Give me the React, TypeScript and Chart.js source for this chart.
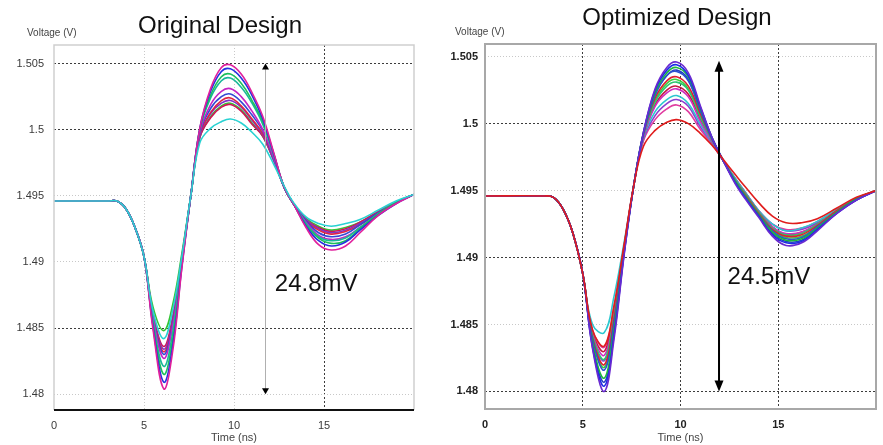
import React, { useEffect, useRef } from "react";
import { Chart, registerables } from "chart.js";

Chart.register(...registerables);

// ---------- data ----------
const TIME_NS = [0, 3, 3.5, 4, 4.5, 5, 5.5, 6.1, 6.6, 7.1, 7.6, 8.1, 8.7, 9.3, 9.8, 10.4, 11, 11.6, 12.2, 12.8, 13.3, 14, 14.7, 15.4, 16.2, 17, 18, 19, 20];

const Y_TICKS = [1.48, 1.485, 1.49, 1.495, 1.5, 1.505];
const Y_TICK_LABELS = ["1.48", "1.485", "1.49", "1.495", "1.5", "1.505"];
const X_TICKS = [0, 5, 10, 15];
const X_TICK_LABELS = ["0", "5", "10", "15"];

const ORIGINAL_TITLE = "Original Design";
const OPTIMIZED_TITLE = "Optimized Design";
const Y_AXIS_LABEL = "Voltage (V)";
const X_AXIS_LABEL = "Time (ns)";
const ORIGINAL_SPREAD_LABEL = "24.8mV";
const OPTIMIZED_SPREAD_LABEL = "24.5mV";

// spread arrow: [time ns, top V, bottom V]
const ORIGINAL_ARROW = [11.75, 1.505, 1.48];
const OPTIMIZED_ARROW = [11.97, 1.5047, 1.48];
// spread label anchor: [time ns, V]
const ORIGINAL_LABEL_AT = [12.27, 1.4883];
const OPTIMIZED_LABEL_AT = [12.41, 1.48855];

// Original design waveforms (V)
const ORIG_CYAN = [1.4946, 1.4946, 1.4946, 1.4940, 1.4926, 1.4904, 1.4863, 1.4842, 1.4864, 1.4904, 1.4950, 1.4990, 1.5001, 1.5006, 1.5008, 1.5005, 1.4998, 1.4989, 1.4974, 1.4957, 1.4945, 1.4934, 1.4929, 1.4927, 1.4929, 1.4932, 1.4939, 1.4946, 1.4951];
const ORIG_MAGENTA_1 = [1.4946, 1.4946, 1.4946, 1.4940, 1.4926, 1.4904, 1.4849, 1.4804, 1.4833, 1.4895, 1.4950, 1.5001, 1.5031, 1.5047, 1.5049, 1.5042, 1.5028, 1.5010, 1.4983, 1.4956, 1.4944, 1.4926, 1.4913, 1.4909, 1.4912, 1.4922, 1.4935, 1.4944, 1.4951];
const ORIG_BLUE_1 = [1.4946, 1.4946, 1.4946, 1.4940, 1.4926, 1.4904, 1.4851, 1.4809, 1.4837, 1.4896, 1.4950, 1.5001, 1.5029, 1.5044, 1.5046, 1.5039, 1.5026, 1.5008, 1.4982, 1.4956, 1.4944, 1.4927, 1.4916, 1.4912, 1.4915, 1.4924, 1.4935, 1.4944, 1.4951];
const ORIG_GREEN_1 = [1.4946, 1.4946, 1.4946, 1.4940, 1.4926, 1.4904, 1.4853, 1.4815, 1.4842, 1.4898, 1.4950, 1.5000, 1.5026, 1.5040, 1.5042, 1.5035, 1.5022, 1.5006, 1.4982, 1.4956, 1.4944, 1.4928, 1.4918, 1.4914, 1.4916, 1.4925, 1.4936, 1.4945, 1.4951];
const ORIG_TEAL = [1.4946, 1.4946, 1.4946, 1.4940, 1.4926, 1.4904, 1.4855, 1.4821, 1.4847, 1.4899, 1.4950, 1.5000, 1.5024, 1.5037, 1.5039, 1.5032, 1.5020, 1.5004, 1.4981, 1.4956, 1.4944, 1.4929, 1.4919, 1.4916, 1.4918, 1.4926, 1.4936, 1.4945, 1.4951];
const ORIG_MAGENTA_2 = [1.4946, 1.4946, 1.4946, 1.4940, 1.4926, 1.4904, 1.4858, 1.4827, 1.4852, 1.4900, 1.4950, 1.4998, 1.5019, 1.5029, 1.5031, 1.5025, 1.5014, 1.5000, 1.4979, 1.4956, 1.4944, 1.4930, 1.4920, 1.4917, 1.4919, 1.4926, 1.4936, 1.4945, 1.4951];
const ORIG_BLUE_2 = [1.4946, 1.4946, 1.4946, 1.4940, 1.4926, 1.4904, 1.4859, 1.4830, 1.4854, 1.4901, 1.4950, 1.4997, 1.5016, 1.5025, 1.5027, 1.5021, 1.5011, 1.4999, 1.4978, 1.4956, 1.4944, 1.4931, 1.4922, 1.4919, 1.4921, 1.4928, 1.4937, 1.4945, 1.4951];
const ORIG_RED_1 = [1.4946, 1.4946, 1.4946, 1.4940, 1.4926, 1.4904, 1.4860, 1.4832, 1.4856, 1.4902, 1.4950, 1.4996, 1.5013, 1.5022, 1.5024, 1.5018, 1.5008, 1.4997, 1.4978, 1.4956, 1.4944, 1.4931, 1.4924, 1.4921, 1.4923, 1.4928, 1.4937, 1.4945, 1.4951];
const ORIG_PURPLE = [1.4946, 1.4946, 1.4946, 1.4940, 1.4926, 1.4904, 1.4860, 1.4834, 1.4857, 1.4902, 1.4950, 1.4995, 1.5012, 1.5020, 1.5022, 1.5017, 1.5007, 1.4996, 1.4977, 1.4956, 1.4944, 1.4932, 1.4925, 1.4922, 1.4924, 1.4929, 1.4937, 1.4945, 1.4951];
const ORIG_RED_2 = [1.4946, 1.4946, 1.4946, 1.4940, 1.4926, 1.4904, 1.4861, 1.4836, 1.4859, 1.4903, 1.4950, 1.4994, 1.5009, 1.5017, 1.5019, 1.5014, 1.5004, 1.4995, 1.4977, 1.4956, 1.4944, 1.4932, 1.4926, 1.4923, 1.4925, 1.4930, 1.4938, 1.4945, 1.4951];
const ORIG_GREEN_2 = [1.4946, 1.4946, 1.4946, 1.4940, 1.4926, 1.4904, 1.4866, 1.4848, 1.4868, 1.4906, 1.4950, 1.4994, 1.5010, 1.5018, 1.5020, 1.5015, 1.5005, 1.4995, 1.4977, 1.4956, 1.4944, 1.4933, 1.4927, 1.4924, 1.4926, 1.4930, 1.4938, 1.4945, 1.4951];

// Optimized design waveforms (V)
const OPT_RED_LOW = [1.4946, 1.4946, 1.4945, 1.4936, 1.4918, 1.4888, 1.4846, 1.4834, 1.4864, 1.4908, 1.4953, 1.4983, 1.4995, 1.5001, 1.5003, 1.5000, 1.4993, 1.4984, 1.4973, 1.4962, 1.4953, 1.4941, 1.4931, 1.4926, 1.4926, 1.4929, 1.4937, 1.4945, 1.4950];
const OPT_PURPLE_1 = [1.4946, 1.4946, 1.4945, 1.4936, 1.4918, 1.4888, 1.4832, 1.4800, 1.4839, 1.4900, 1.4953, 1.4993, 1.5026, 1.5042, 1.5046, 1.5038, 1.5014, 1.4990, 1.4972, 1.4955, 1.4944, 1.4930, 1.4916, 1.4909, 1.4911, 1.4920, 1.4933, 1.4943, 1.4950];
const OPT_BLUE_1 = [1.4946, 1.4946, 1.4945, 1.4936, 1.4918, 1.4888, 1.4833, 1.4804, 1.4842, 1.4901, 1.4953, 1.4993, 1.5025, 1.5040, 1.5044, 1.5036, 1.5013, 1.4990, 1.4972, 1.4956, 1.4945, 1.4931, 1.4917, 1.4911, 1.4912, 1.4921, 1.4933, 1.4943, 1.4950];
const OPT_GREEN_1 = [1.4946, 1.4946, 1.4945, 1.4936, 1.4918, 1.4888, 1.4836, 1.4810, 1.4846, 1.4903, 1.4953, 1.4993, 1.5023, 1.5038, 1.5042, 1.5035, 1.5012, 1.4990, 1.4972, 1.4957, 1.4946, 1.4932, 1.4919, 1.4913, 1.4914, 1.4922, 1.4934, 1.4944, 1.4950];
const OPT_BLUE_2 = [1.4946, 1.4946, 1.4945, 1.4936, 1.4918, 1.4888, 1.4839, 1.4816, 1.4851, 1.4904, 1.4953, 1.4992, 1.5021, 1.5036, 1.5039, 1.5032, 1.5010, 1.4989, 1.4972, 1.4957, 1.4946, 1.4932, 1.4920, 1.4914, 1.4915, 1.4923, 1.4934, 1.4944, 1.4950];
const OPT_RED_1 = [1.4946, 1.4946, 1.4945, 1.4936, 1.4918, 1.4888, 1.4840, 1.4820, 1.4854, 1.4905, 1.4953, 1.4992, 1.5019, 1.5032, 1.5035, 1.5028, 1.5008, 1.4989, 1.4972, 1.4957, 1.4947, 1.4933, 1.4921, 1.4916, 1.4917, 1.4924, 1.4935, 1.4944, 1.4950];
const OPT_GREEN_2 = [1.4946, 1.4946, 1.4945, 1.4936, 1.4918, 1.4888, 1.4842, 1.4824, 1.4857, 1.4905, 1.4953, 1.4991, 1.5016, 1.5028, 1.5031, 1.5025, 1.5005, 1.4988, 1.4972, 1.4958, 1.4948, 1.4934, 1.4922, 1.4917, 1.4918, 1.4925, 1.4935, 1.4944, 1.4950];
const OPT_MAGENTA_1 = [1.4946, 1.4946, 1.4945, 1.4936, 1.4918, 1.4888, 1.4843, 1.4827, 1.4859, 1.4906, 1.4953, 1.4990, 1.5013, 1.5023, 1.5026, 1.5020, 1.5002, 1.4987, 1.4972, 1.4958, 1.4948, 1.4934, 1.4923, 1.4918, 1.4919, 1.4925, 1.4935, 1.4944, 1.4950];
const OPT_RED_2 = [1.4946, 1.4946, 1.4945, 1.4936, 1.4918, 1.4888, 1.4844, 1.4830, 1.4861, 1.4907, 1.4953, 1.4990, 1.5014, 1.5025, 1.5028, 1.5022, 1.5004, 1.4987, 1.4972, 1.4958, 1.4948, 1.4934, 1.4923, 1.4917, 1.4919, 1.4925, 1.4935, 1.4944, 1.4950];
const OPT_CYAN = [1.4946, 1.4946, 1.4945, 1.4936, 1.4918, 1.4888, 1.4850, 1.4844, 1.4871, 1.4910, 1.4953, 1.4989, 1.5009, 1.5018, 1.5021, 1.5015, 1.5000, 1.4986, 1.4972, 1.4959, 1.4949, 1.4935, 1.4925, 1.4920, 1.4922, 1.4927, 1.4936, 1.4944, 1.4950];
const OPT_PURPLE_2 = [1.4946, 1.4946, 1.4945, 1.4936, 1.4918, 1.4888, 1.4841, 1.4823, 1.4856, 1.4905, 1.4953, 1.4988, 1.5006, 1.5015, 1.5018, 1.5013, 1.4998, 1.4986, 1.4972, 1.4959, 1.4949, 1.4935, 1.4925, 1.4920, 1.4921, 1.4926, 1.4935, 1.4944, 1.4950];
const OPT_MAGENTA_2 = [1.4946, 1.4946, 1.4945, 1.4936, 1.4918, 1.4888, 1.4846, 1.4833, 1.4863, 1.4907, 1.4953, 1.4987, 1.5003, 1.5011, 1.5014, 1.5009, 1.4996, 1.4985, 1.4972, 1.4959, 1.4949, 1.4935, 1.4925, 1.4921, 1.4922, 1.4927, 1.4936, 1.4944, 1.4950];
const OPT_GREEN_3 = [1.4946, 1.4946, 1.4945, 1.4936, 1.4918, 1.4888, 1.4839, 1.4818, 1.4852, 1.4904, 1.4953, 1.4991, 1.5017, 1.5030, 1.5033, 1.5026, 1.5006, 1.4988, 1.4972, 1.4957, 1.4947, 1.4933, 1.4921, 1.4915, 1.4916, 1.4923, 1.4934, 1.4944, 1.4950];
const OPT_BLUE_3 = [1.4946, 1.4946, 1.4945, 1.4936, 1.4918, 1.4888, 1.4835, 1.4807, 1.4844, 1.4902, 1.4953, 1.4992, 1.5022, 1.5036, 1.5040, 1.5033, 1.5010, 1.4989, 1.4972, 1.4956, 1.4945, 1.4931, 1.4918, 1.4912, 1.4913, 1.4922, 1.4934, 1.4943, 1.4950];

// first entry is drawn on top
const ORIGINAL_SERIES = [
  { values: ORIG_CYAN, color: "#28d2d2" },
  { values: ORIG_MAGENTA_1, color: "#e0209c" },
  { values: ORIG_BLUE_1, color: "#2430e0" },
  { values: ORIG_GREEN_1, color: "#1cbf5c" },
  { values: ORIG_TEAL, color: "#18b89a" },
  { values: ORIG_MAGENTA_2, color: "#c424c4" },
  { values: ORIG_BLUE_2, color: "#3448d4" },
  { values: ORIG_RED_1, color: "#e02444" },
  { values: ORIG_PURPLE, color: "#8034c8" },
  { values: ORIG_RED_2, color: "#d01454" },
  { values: ORIG_GREEN_2, color: "#34c434" },
];

const OPTIMIZED_SERIES = [
  { values: OPT_RED_LOW, color: "#e01c1c" },
  { values: OPT_PURPLE_1, color: "#6a2ad0" },
  { values: OPT_BLUE_1, color: "#1c2ce6" },
  { values: OPT_GREEN_1, color: "#1cb83c" },
  { values: OPT_BLUE_2, color: "#2c50d0" },
  { values: OPT_RED_1, color: "#dc2030" },
  { values: OPT_GREEN_2, color: "#2cc670" },
  { values: OPT_MAGENTA_1, color: "#d02cc0" },
  { values: OPT_RED_2, color: "#c41840" },
  { values: OPT_CYAN, color: "#2cc8d0" },
  { values: OPT_PURPLE_2, color: "#8c3ed0" },
  { values: OPT_MAGENTA_2, color: "#e03ca0" },
  { values: OPT_GREEN_3, color: "#3cd03c" },
  { values: OPT_BLUE_3, color: "#2440c0" },
];

// ---------- layout / style ----------
const FONT = '"Liberation Sans", Arial, sans-serif';
const CANVAS_H = 445;

const PANELS = [
  {
    key: "orig",
    pageLeft: 0,
    width: 440,
    area: { left: 54, top: 45, right: 414, bottom: 410 },
    yMin: 1.4788,
    yMax: 1.5064,
    series: ORIGINAL_SERIES,
    title: ORIGINAL_TITLE,
    titleX: 220,
    titleY: 33,
    yLabelX: 27,
    yLabelY: 36,
    yTickPad: 10,
    tickWeight: "normal",
    tickColor: "#3a3a3a",
    yGrid: ["light", "dark", "light", "light", "dark", "dark"],
    xGrid: ["none", "light", "light", "dark"],
    frame: "original",
    arrow: ORIGINAL_ARROW,
    arrowStyle: { color: "#b0b0b0", width: 1, hw: 3.5, hl: 6 },
    spread: ORIGINAL_SPREAD_LABEL,
    spreadAt: ORIGINAL_LABEL_AT,
  },
  {
    key: "opt",
    pageLeft: 440,
    width: 443,
    area: { left: 45, top: 44, right: 436, bottom: 409 },
    yMin: 1.47869,
    yMax: 1.50595,
    series: OPTIMIZED_SERIES,
    title: OPTIMIZED_TITLE,
    titleX: 237,
    titleY: 25,
    yLabelX: 15,
    yLabelY: 35,
    yTickPad: 7,
    tickWeight: "bold",
    tickColor: "#222",
    yGrid: ["dark", "light", "dark", "light", "dark", "light"],
    xGrid: ["none", "dark", "dark", "dark"],
    frame: "optimized",
    arrow: OPTIMIZED_ARROW,
    arrowStyle: { color: "#000", width: 2, hw: 4.5, hl: 11 },
    spread: OPTIMIZED_SPREAD_LABEL,
    spreadAt: OPTIMIZED_LABEL_AT,
  },
];

const GRID_COLOR = { dark: "#3c3c3c", light: "#c8c8c8", none: "rgba(0,0,0,0)" };
const GRID_DASH = { dark: [2, 2], light: [1, 2], none: [] };

function makeOverlay(p: any) {
  return {
    id: "overlay_" + p.key,
    beforeDraw(chart: any) {
      const ctx = chart.ctx;
      ctx.save();
      ctx.fillStyle = "#fff";
      ctx.fillRect(0, 0, chart.width, chart.height);
      ctx.restore();
    },
    afterDatasetsDraw(chart: any) {
      const ctx = chart.ctx;
      const a = chart.chartArea;
      const xs = chart.scales.x;
      const ys = chart.scales.y;
      ctx.save();
      // frame
      if (p.frame === "original") {
        ctx.strokeStyle = "#cfcfcf";
        ctx.lineWidth = 1.5;
        ctx.beginPath();
        ctx.moveTo(a.left, a.bottom);
        ctx.lineTo(a.left, a.top);
        ctx.lineTo(a.right, a.top);
        ctx.lineTo(a.right, a.bottom);
        ctx.stroke();
        ctx.strokeStyle = "#111";
        ctx.lineWidth = 2;
        ctx.beginPath();
        ctx.moveTo(a.left, a.bottom);
        ctx.lineTo(a.right, a.bottom);
        ctx.stroke();
      } else {
        ctx.strokeStyle = "#a8a8a8";
        ctx.lineWidth = 2;
        ctx.strokeRect(a.left, a.top, a.right - a.left, a.bottom - a.top);
      }
      // spread arrow
      const ax = xs.getPixelForValue(p.arrow[0]);
      const yt = ys.getPixelForValue(p.arrow[1]);
      const yb = ys.getPixelForValue(p.arrow[2]);
      const st = p.arrowStyle;
      ctx.strokeStyle = st.color;
      ctx.lineWidth = st.width;
      ctx.beginPath();
      ctx.moveTo(ax, yt + st.hl * 0.8);
      ctx.lineTo(ax, yb - st.hl * 0.8);
      ctx.stroke();
      ctx.fillStyle = "#000";
      ctx.beginPath();
      ctx.moveTo(ax, yt);
      ctx.lineTo(ax - st.hw, yt + st.hl);
      ctx.lineTo(ax + st.hw, yt + st.hl);
      ctx.closePath();
      ctx.fill();
      ctx.beginPath();
      ctx.moveTo(ax, yb);
      ctx.lineTo(ax - st.hw, yb - st.hl);
      ctx.lineTo(ax + st.hw, yb - st.hl);
      ctx.closePath();
      ctx.fill();
      // spread text
      ctx.fillStyle = "#111";
      ctx.font = "24px " + FONT;
      ctx.textAlign = "left";
      ctx.textBaseline = "middle";
      ctx.fillText(p.spread, xs.getPixelForValue(p.spreadAt[0]), ys.getPixelForValue(p.spreadAt[1]));
      ctx.restore();
    },
    afterDraw(chart: any) {
      const ctx = chart.ctx;
      const a = chart.chartArea;
      ctx.save();
      ctx.fillStyle = "#111";
      ctx.font = "24px " + FONT;
      ctx.textAlign = "center";
      ctx.textBaseline = "alphabetic";
      ctx.fillText(p.title, p.titleX, p.titleY);
      ctx.fillStyle = "#444";
      ctx.font = "10px " + FONT;
      ctx.textAlign = "left";
      ctx.fillText(Y_AXIS_LABEL, p.yLabelX, p.yLabelY);
      ctx.font = "11px " + FONT;
      ctx.textAlign = "center";
      ctx.textBaseline = "middle";
      ctx.fillText(X_AXIS_LABEL, (a.left + a.right) / 2, 438);
      ctx.restore();
    },
  };
}

function Panel({ p }: { p: any }) {
  const ref = useRef<HTMLCanvasElement | null>(null);
  useEffect(() => {
    if (!ref.current) return;
    const datasets = p.series.map((s: any) => ({
      data: TIME_NS.map((t, i) => ({ x: t, y: s.values[i] })),
      borderColor: s.color,
      backgroundColor: s.color,
      borderWidth: 1.6,
      pointRadius: 0,
      fill: false,
      tension: 0.4,
    }));
    const tickFont = { family: FONT, size: 11, weight: p.tickWeight };
    const chart = new Chart(ref.current, {
      type: "line",
      data: { datasets },
      options: {
        responsive: false,
        animation: false,
        devicePixelRatio: 1,
        events: [],
        layout: { padding: { left: 0, top: p.area.top, right: p.width - p.area.right, bottom: 0 } },
        plugins: { legend: { display: false }, tooltip: { enabled: false }, title: { display: false } },
        scales: {
          x: {
            type: "linear",
            min: 0,
            max: 20,
            afterBuildTicks: (axis: any) => {
              axis.ticks = X_TICKS.map((v) => ({ value: v }));
            },
            afterFit: (axis: any) => {
              axis.height = CANVAS_H - p.area.bottom;
            },
            ticks: {
              autoSkip: false,
              maxRotation: 0,
              padding: 9,
              color: p.tickColor,
              font: tickFont,
              callback: (v: any) => X_TICK_LABELS[X_TICKS.indexOf(v)] ?? "",
            },
            grid: {
              drawTicks: false,
              lineWidth: 1,
              color: (c: any) => GRID_COLOR[p.xGrid[X_TICKS.indexOf(c.tick?.value)] || "none"],
            },
            border: {
              display: false,
              dash: (c: any) => GRID_DASH[p.xGrid[X_TICKS.indexOf(c.tick?.value)] || "none"],
            },
          },
          y: {
            type: "linear",
            min: p.yMin,
            max: p.yMax,
            afterBuildTicks: (axis: any) => {
              axis.ticks = Y_TICKS.map((v) => ({ value: v }));
            },
            afterFit: (axis: any) => {
              axis.width = p.area.left;
            },
            ticks: {
              autoSkip: false,
              padding: p.yTickPad,
              color: p.tickColor,
              font: tickFont,
              callback: (v: any) => Y_TICK_LABELS[Y_TICKS.indexOf(v)] ?? "",
            },
            grid: {
              drawTicks: false,
              lineWidth: 1,
              color: (c: any) => GRID_COLOR[p.yGrid[Y_TICKS.indexOf(c.tick?.value)] || "none"],
            },
            border: {
              display: false,
              dash: (c: any) => GRID_DASH[p.yGrid[Y_TICKS.indexOf(c.tick?.value)] || "none"],
            },
          },
        },
      },
      plugins: [makeOverlay(p)],
    } as any);
    return () => chart.destroy();
  }, [p]);
  return (
    <div style={{ position: "absolute", left: p.pageLeft, top: 0, width: p.width, height: CANVAS_H }}>
      <canvas ref={ref} width={p.width} height={CANVAS_H} style={{ display: "block" }} />
    </div>
  );
}

export default function App() {
  return (
    <div style={{ position: "absolute", left: 0, top: 0, width: 883, height: CANVAS_H, background: "#fff" }}>
      {PANELS.map((p) => (
        <Panel key={p.key} p={p} />
      ))}
    </div>
  );
}
